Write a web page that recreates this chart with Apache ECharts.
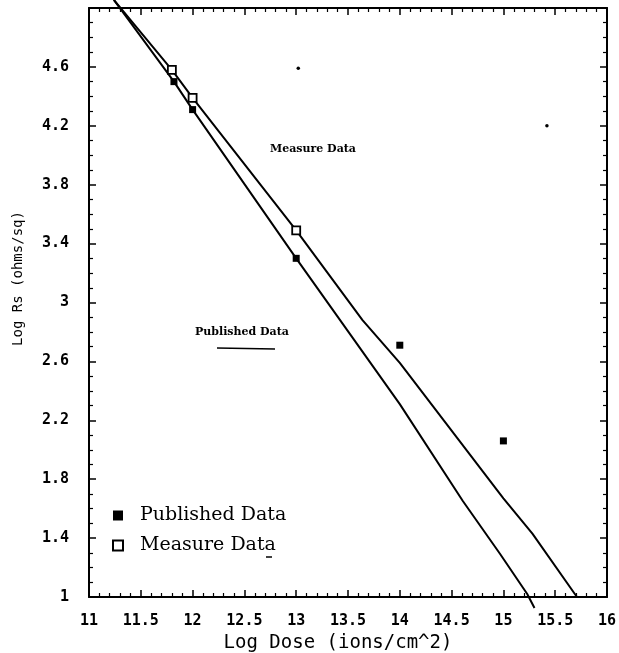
<!DOCTYPE html>
<html>
<head>
<meta charset="utf-8">
<script src="https://cdn.jsdelivr.net/npm/echarts@6/dist/echarts.min.js"></script>
<style>
  html, body { margin: 0; padding: 0; background: #fff; }
  #chart { width: 619px; height: 653px; }
</style>
</head>
<body>
<div id="chart"></div>
<script>
// points: [log dose, log Rs]
var publishedPoints = [[11.82, 4.50], [12, 4.31], [13, 3.30], [14, 2.71], [15, 2.06]];
var measurePoints = [[11.8, 4.58], [12, 4.39], [13, 3.49]];
var specks = [[13.02, 4.59], [15.42, 4.20]];

// the two fitted curves (run past the frame like the original)
var publishedFit = [[11.24, 5.055], [11.82, 4.50], [12, 4.31], [13, 3.30], [14, 2.31],
  [14.61, 1.65], [14.97, 1.29], [15.23, 1.02], [15.30, 0.925]];
var measureFit = [[11.24, 5.055], [11.8, 4.58], [12, 4.39], [13, 3.49], [13.64, 2.88],
  [14, 2.59], [15, 1.67], [15.28, 1.43], [15.71, 1.0]];

var legendNames = ['Published Data', 'Measure Data'];

var black = '#000';
var tickFont = {
  color: black,
  fontFamily: 'DejaVu Sans Mono',
  fontWeight: 'bold',
  fontSize: 15
};

var chart = echarts.init(document.getElementById('chart'));

function xAxisDef(pos, showLabel) {
  return {
    type: 'value',
    position: pos,
    min: 11,
    max: 16,
    interval: 0.5,
    axisLine: { show: true, onZero: false, lineStyle: { color: black, width: 2 } },
    axisTick: { show: true, inside: true, length: 7, lineStyle: { color: black, width: 1.5 } },
    minorTick: { show: true, splitNumber: 5, length: 4, lineStyle: { color: black, width: 1.2 } },
    splitLine: { show: false },
    axisLabel: Object.assign({ show: showLabel, margin: 17 }, tickFont)
  };
}

function yAxisDef(pos, showLabel) {
  return {
    type: 'value',
    position: pos,
    min: 1,
    max: 5,
    interval: 0.4,
    axisLine: { show: true, onZero: false, lineStyle: { color: black, width: 2 } },
    axisTick: { show: true, inside: true, length: 7, lineStyle: { color: black, width: 1.5 } },
    minorTick: { show: true, splitNumber: 4, length: 4, lineStyle: { color: black, width: 1.2 } },
    splitLine: { show: false },
    axisLabel: Object.assign({ show: showLabel, margin: 20, showMaxLabel: false }, tickFont)
  };
}

var xBottom = xAxisDef('bottom', true);
xBottom.name = 'Log Dose (ions/cm^2)';
xBottom.nameLocation = 'middle';
xBottom.nameGap = 29;
xBottom.nameTextStyle = { color: black, fontFamily: 'DejaVu Sans Mono', fontSize: 19, padding: [0, 20, 0, 0] };

var yLeft = yAxisDef('left', true);
yLeft.name = 'Log Rs (ohms/sq)';
yLeft.nameLocation = 'middle';
yLeft.nameGap = 64;
yLeft.nameTextStyle = { color: black, fontFamily: 'DejaVu Sans Mono', fontSize: 14, padding: [0, 0, 0, 48] };

var option = {
  backgroundColor: '#fff',
  animation: false,
  grid: { left: 89, right: 12, top: 8, bottom: 56, containLabel: false, outerBoundsMode: 'none' },
  xAxis: [xBottom, xAxisDef('top', false)],
  yAxis: [yLeft, yAxisDef('right', false)],
  legend: {
    data: legendNames,
    orient: 'vertical',
    left: 107,
    top: 501,
    itemWidth: 10,
    itemHeight: 10,
    itemGap: 11,
    textStyle: { color: black, fontFamily: 'DejaVu Serif', fontSize: 19, padding: [0, 0, 0, 12] }
  },
  series: [
    {
      type: 'line',
      name: 'Published Fit',
      data: publishedFit,
      clip: false,
      showSymbol: false,
      lineStyle: { color: black, width: 2 },
      z: 2
    },
    {
      type: 'line',
      name: 'Measure Fit',
      data: measureFit,
      clip: false,
      showSymbol: false,
      lineStyle: { color: black, width: 2 },
      z: 2
    },
    {
      type: 'scatter',
      name: 'Published Data',
      data: publishedPoints,
      symbol: 'rect',
      symbolSize: 7,
      itemStyle: { color: black, opacity: 1 },
      z: 4
    },
    {
      type: 'scatter',
      name: 'Measure Data',
      data: measurePoints,
      symbol: 'rect',
      symbolSize: 8,
      itemStyle: { color: '#fff', borderColor: black, borderWidth: 1.8, opacity: 1 },
      z: 4
    },
    {
      type: 'scatter',
      name: 'specks',
      data: specks,
      symbol: 'circle',
      symbolSize: 3.5,
      itemStyle: { color: black, opacity: 1 },
      z: 4
    }
  ],
  graphic: [
    {
      type: 'text',
      left: 270,
      top: 144,
      style: { text: 'Measure Data', fill: black, font: 'bold 11px "DejaVu Serif"' }
    },
    {
      type: 'text',
      left: 195,
      top: 327,
      style: { text: 'Published Data', fill: black, font: 'bold 11px "DejaVu Serif"' }
    },
    {
      type: 'line',
      shape: { x1: 217, y1: 348, x2: 275, y2: 349 },
      style: { stroke: black, lineWidth: 1.5 }
    },
    {
      type: 'line',
      shape: { x1: 266, y1: 557, x2: 272, y2: 557 },
      style: { stroke: black, lineWidth: 1.5 }
    }
  ]
};

chart.setOption(option);
</script>
</body>
</html>
